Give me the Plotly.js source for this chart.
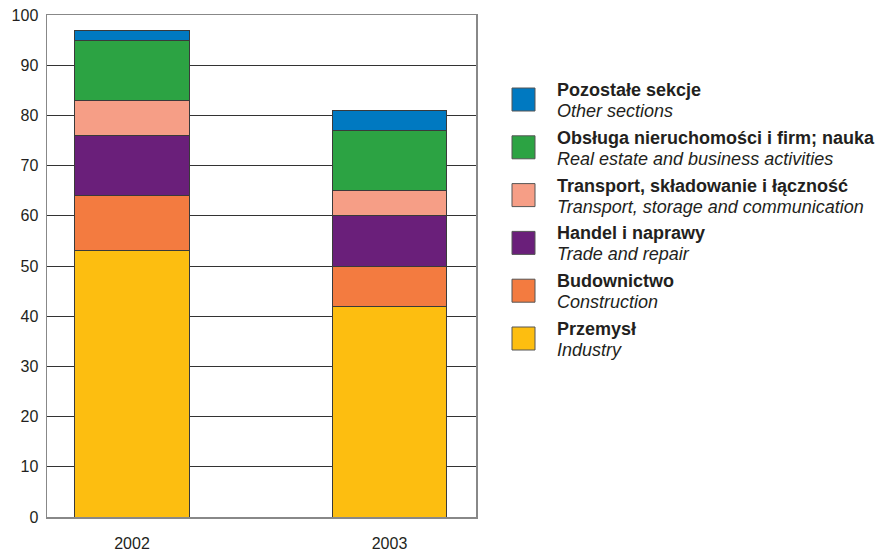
<!DOCTYPE html>
<html>
<head>
<meta charset="utf-8">
<script src="https://cdn.plot.ly/plotly-3.0.1.min.js"></script>
<style>html,body{margin:0;padding:0;background:#fff;}#chart{width:887px;height:555px;}</style>
</head>
<body>
<div id="chart"></div>
<script>
const years = ['2002', '2003'];
const namesPL = ['Przemysł', 'Budownictwo', 'Handel i naprawy', 'Transport, składowanie i łączność', 'Obsługa nieruchomości i firm; nauka', 'Pozostałe sekcje'];
const namesEN = ['Industry', 'Construction', 'Trade and repair', 'Transport, storage and communication', 'Real estate and business activities', 'Other sections'];
const przemysl = [53, 42];
const budownictwo = [11, 8];
const handel = [12, 10];
const transport = [7, 5];
const obsluga = [12, 12];
const pozostale = [2, 4];
const series = [przemysl, budownictwo, handel, transport, obsluga, pozostale];
const colors = ['#fdbe10', '#f37b40', '#6a1f7a', '#f69e86', '#2ca343', '#0079c1'];

const xpos = years.map((y, i) => i);
const traces = series.map((vals, k) => ({
  type: 'bar', x: xpos, y: vals, name: namesPL[k], width: 0.443,
  marker: {color: colors[k], line: {color: '#3a3a3a', width: 1}},
  showlegend: false, hoverinfo: 'skip'
}));

const textColor = '#231f20';
const fam = 'Liberation Sans, Arial, sans-serif';
const shapes = [];
const annotations = [];
// custom legend, top entry = last series
for (let j = 0; j < namesPL.length; j++) {
  const k = namesPL.length - 1 - j;
  const top = 88 + j * 47.8;
  shapes.push({type: 'rect', xref: 'paper', yref: 'paper',
    x0: (512 - 47) / 429, x1: (535 - 47) / 429,
    y0: (517 - top) / 502, y1: (517 - top - 23) / 502,
    fillcolor: colors[k], line: {color: '#555', width: 1}});
  annotations.push({xref: 'paper', yref: 'paper', x: (555 - 47) / 429, y: (517 - (top + 2)) / 502,
    xanchor: 'left', yanchor: 'middle', showarrow: false, align: 'left',
    text: '<b>' + namesPL[k] + '</b>', font: {size: 18, color: textColor, family: fam}});
  annotations.push({xref: 'paper', yref: 'paper', x: (555 - 47) / 429, y: (517 - (top + 23)) / 502,
    xanchor: 'left', yanchor: 'middle', showarrow: false, align: 'left',
    text: '<i>' + namesEN[k] + '</i>', font: {size: 18, color: textColor, family: fam}});
}

const layout = {
  width: 887, height: 555,
  margin: {l: 47, r: 411, t: 15, b: 38},
  barmode: 'stack',
  paper_bgcolor: '#fff', plot_bgcolor: '#fff',
  font: {family: fam, size: 16, color: textColor},
  xaxis: {
    range: [-0.33, 1.336], tickmode: 'array', tickvals: xpos, ticktext: years,
    showgrid: false, zeroline: false, showline: true, linecolor: '#888', linewidth: 1.5, mirror: true,
    ticks: '', ticklabelstandoff: 11, tickfont: {size: 16, color: textColor}
  },
  yaxis: {
    range: [0, 100], dtick: 10, showgrid: true, gridcolor: '#333', gridwidth: 1,
    zeroline: false, showline: true, linecolor: '#888', linewidth: 1.5, mirror: true,
    ticks: '', ticklabelstandoff: 4, tickfont: {size: 16, color: textColor}
  },
  shapes: shapes,
  annotations: annotations
};

Plotly.newPlot('chart', traces, layout, {displayModeBar: false, staticPlot: true});
</script>
</body>
</html>
